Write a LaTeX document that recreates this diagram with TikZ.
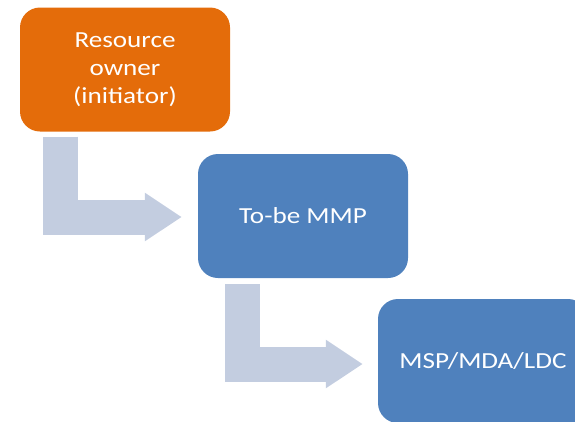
\documentclass[tikz,border=0pt]{standalone}
\usepackage{fontspec}
\setmainfont{Carlito}[FakeStretch=1.18]
\usetikzlibrary{arrows.meta}
\definecolor{orangebox}{HTML}{E46C0A}
\definecolor{bluebox}{HTML}{4F81BD}
\definecolor{arrowfill}{HTML}{C3CDE0}
\begin{document}
\begin{tikzpicture}[x=1pt,y=-1pt,
  stagebox/.style={rounded corners=20pt, minimum width=210pt, minimum height=124pt,
    inner sep=0pt, text=white, align=center,
    font=\fontsize{23}{28}\selectfont},
  bentarrow/.style={draw=arrowfill, line width=35pt, line join=miter,
    -{Triangle[length=37pt,width=46pt]}}]
\useasboundingbox (0,0) rectangle (575,421);
\clip (0,0) rectangle (575,421);
\node[stagebox, fill=orangebox] (a) at (125,69.5) {Resource\\owner\\(initiator)};
\node[stagebox, fill=bluebox] (b) at (303,216) {To-be MMP};
\node[stagebox, fill=bluebox] (c) at (483,361) {MSP/MDA/LDC};
\draw[bentarrow] ([xshift=40.5pt,yshift=-5pt]a.south west) |- ([xshift=-16pt,yshift=-1pt]b.west);
\draw[bentarrow] ([xshift=44.5pt,yshift=-6pt]b.south west) |- ([xshift=-15pt,yshift=-3pt]c.west);
\end{tikzpicture}
\end{document}
